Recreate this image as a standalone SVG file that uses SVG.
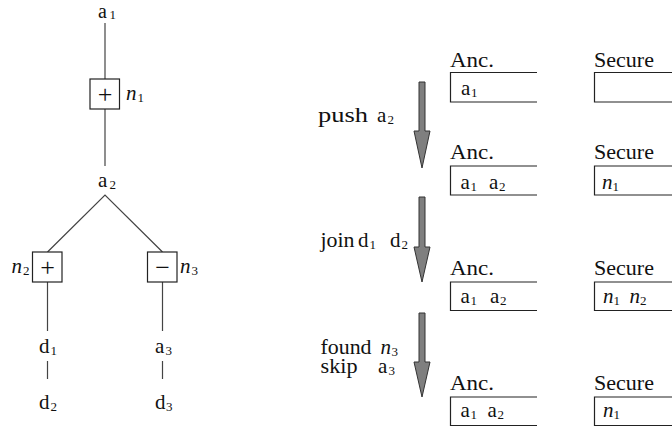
<svg xmlns="http://www.w3.org/2000/svg" width="672" height="427" viewBox="0 0 672 427">
<style>
text{font-family:"Liberation Serif","Times New Roman",Times,"DejaVu Serif",serif;font-size:21px;fill:#111}
.s{font-size:13px}
.i{font-style:italic}
.op{font-size:26px;text-anchor:middle}
.ln{stroke:#444;stroke-width:1.2;fill:none}
.bx{stroke:#222;stroke-width:1.2;fill:#fff}
.ob{stroke:#222;stroke-width:1.2;fill:none}
.ar{fill:#7f7f7f;stroke:#333;stroke-width:1}
</style>
<rect width="672" height="427" fill="#fff"/>
<g id="connectors">
<line class="ln" x1="105" y1="23" x2="105" y2="79"/>
<line class="ln" x1="105" y1="109" x2="105" y2="166"/>
<polyline class="ln" points="47.5,252 105,195 162.5,252"/>
<line class="ln" x1="47.5" y1="282" x2="47.5" y2="331"/>
<line class="ln" x1="162.5" y1="282" x2="162.5" y2="331"/>
<line class="ln" x1="47.5" y1="361" x2="47.5" y2="379"/>
<line class="ln" x1="162.5" y1="361" x2="162.5" y2="379"/>
</g>
<g id="a1"><text x="98" y="17.5" style="font-size:20px">a</text><text class="s" x="109.5" y="19">1</text></g>
<g id="n1"><rect class="bx" x="90" y="79" width="29.5" height="30"/><text class="op" x="105" y="102.5">+</text><text class="i" x="126" y="100">n</text><text class="s" x="137.5" y="102">1</text></g>
<g id="a2"><text x="98" y="187">a</text><text class="s" x="109.5" y="189">2</text></g>
<g id="n2"><rect class="bx" x="32.5" y="252" width="29.5" height="30"/><text class="op" x="47.5" y="275.5">+</text><text class="i" x="11.5" y="273">n</text><text class="s" x="23" y="275">2</text></g>
<g id="n3"><rect class="bx" x="147.5" y="252" width="29.5" height="30"/><text class="op" x="162.5" y="275.5">−</text><text class="i" x="180" y="273">n</text><text class="s" x="191.5" y="275">3</text></g>
<g id="d1"><text x="39" y="353">d</text><text class="s" x="50.5" y="355">1</text></g>
<g id="d2"><text x="39" y="409">d</text><text class="s" x="50.5" y="411">2</text></g>
<g id="a3"><text x="155" y="353">a</text><text class="s" x="165.5" y="355">3</text></g>
<g id="d3"><text x="155" y="409">d</text><text class="s" x="166" y="411">3</text></g>

<g id="arrows">
<polygon class="ar" points="419,82 425,82 425,131 430,131 422,168 414,131 419,131"/>
<polygon class="ar" points="419,197 425,197 425,247 430,247 422,282 414,247 419,247"/>
<polygon class="ar" points="419,313 425,313 425,362 430,362 422,397 414,362 419,362"/>
</g>
<g id="step-labels">
<text x="318" y="122" textLength="50" lengthAdjust="spacingAndGlyphs">push</text><text x="377" y="122">a</text><text class="s" x="387.5" y="124">2</text>
<text x="320.5" y="247" textLength="34" lengthAdjust="spacingAndGlyphs">join</text><text x="358" y="247">d</text><text class="s" x="369.5" y="249">1</text><text x="390" y="247">d</text><text class="s" x="401.5" y="249">2</text>
<text x="320.5" y="354" textLength="51" lengthAdjust="spacingAndGlyphs">found</text><text class="i" x="380.5" y="354">n</text><text class="s" x="391.5" y="356">3</text>
<text x="320.5" y="373" textLength="37" lengthAdjust="spacingAndGlyphs">skip</text><text x="378" y="373">a</text><text class="s" x="388.5" y="375">3</text>
</g>

<g id="row1">
<text x="450" y="67" textLength="44" lengthAdjust="spacingAndGlyphs">Anc.</text>
<path class="ob" d="M537,72.5H450.5V102H537"/>
<text x="461" y="95">a</text><text class="s" x="471" y="97">1</text>
<text x="594" y="67" textLength="60" lengthAdjust="spacingAndGlyphs">Secure</text>
<path class="ob" d="M673,72.5H594.5V102H673"/>
</g>
<g id="row2">
<text x="450" y="159" textLength="44" lengthAdjust="spacingAndGlyphs">Anc.</text>
<path class="ob" d="M537,166H450.5V195H537"/>
<text x="460.5" y="189">a</text><text class="s" x="470.5" y="191">1</text><text x="489" y="189">a</text><text class="s" x="499" y="191">2</text>
<text x="594" y="159" textLength="60" lengthAdjust="spacingAndGlyphs">Secure</text>
<path class="ob" d="M673,166H594.5V195H673"/>
<text class="i" x="602" y="189">n</text><text class="s" x="612.5" y="191">1</text>
</g>
<g id="row3">
<text x="450" y="275" textLength="44" lengthAdjust="spacingAndGlyphs">Anc.</text>
<path class="ob" d="M537,282H450.5V310.5H537"/>
<text x="460.5" y="303">a</text><text class="s" x="470.5" y="305">1</text><text x="490" y="303">a</text><text class="s" x="500" y="305">2</text>
<text x="594" y="275" textLength="60" lengthAdjust="spacingAndGlyphs">Secure</text>
<path class="ob" d="M673,282H594.5V310.5H673"/>
<text class="i" x="603" y="303">n</text><text class="s" x="613.5" y="305">1</text><text class="i" x="629.5" y="303">n</text><text class="s" x="640" y="305">2</text>
</g>
<g id="row4">
<text x="450" y="390" textLength="44" lengthAdjust="spacingAndGlyphs">Anc.</text>
<path class="ob" d="M537,397H450.5V425.5H537"/>
<text x="460.5" y="417">a</text><text class="s" x="470.5" y="419">1</text><text x="487.5" y="417">a</text><text class="s" x="497.5" y="419">2</text>
<text x="594" y="390" textLength="60" lengthAdjust="spacingAndGlyphs">Secure</text>
<path class="ob" d="M673,397H594.5V425.5H673"/>
<text class="i" x="603" y="417">n</text><text class="s" x="613.5" y="419">1</text>
</g>
</svg>
